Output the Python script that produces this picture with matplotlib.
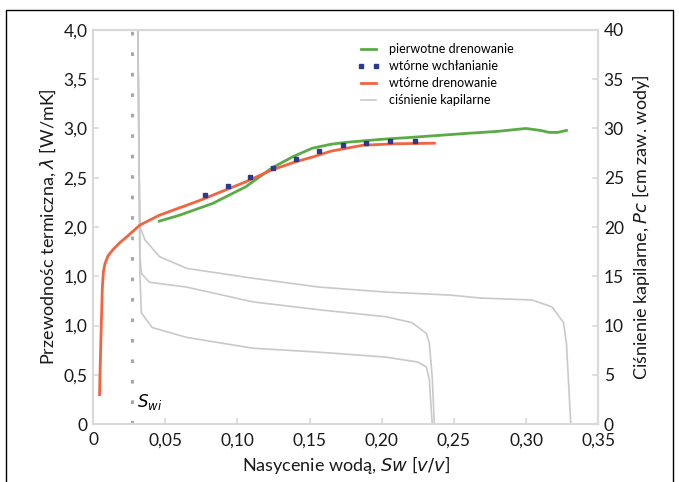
import matplotlib.pyplot as plt
import numpy as np

plt.rcParams['font.family'] = ['Lato', 'DejaVu Sans']

# dane ----------
# przewodność termiczna (lewa oś)
sw_prim = [0.046, 0.060, 0.083, 0.106, 0.124, 0.138, 0.152, 0.165, 0.176, 0.200,
           0.221, 0.240, 0.259, 0.280, 0.300, 0.310, 0.316, 0.322, 0.328]
lam_prim = [2.06, 2.12, 2.24, 2.41, 2.60, 2.71, 2.80, 2.84, 2.86, 2.89,
            2.91, 2.93, 2.95, 2.97, 3.00, 2.98, 2.96, 2.96, 2.98]

sw_sec = [0.0045, 0.0050, 0.0057, 0.0065, 0.0072, 0.0083, 0.0105, 0.0138, 0.0185,
          0.0233, 0.0325, 0.046, 0.074, 0.106, 0.124, 0.140, 0.152, 0.165, 0.187,
          0.210, 0.2365]
lam_sec = [0.30, 0.60, 1.00, 1.40, 1.55, 1.63, 1.71, 1.77, 1.84,
           1.90, 2.02, 2.12, 2.27, 2.46, 2.58, 2.66, 2.71, 2.77, 2.83,
           2.845, 2.85]

sw_imb = [0.0775, 0.0934, 0.1089, 0.1247, 0.1404, 0.1566, 0.1732, 0.1893, 0.2060, 0.2230]
lam_imb = [2.325, 2.42, 2.51, 2.60, 2.69, 2.77, 2.83, 2.85, 2.87, 2.875]

# ciśnienie kapilarne (prawa oś)
pc_a_x = [0.031, 0.0315, 0.032, 0.0325, 0.036, 0.046, 0.065, 0.111, 0.157, 0.203,
          0.247, 0.268, 0.304, 0.318, 0.326, 0.328, 0.331]
pc_a_y = [40, 35, 25, 20, 18.7, 17.0, 15.8, 14.8, 13.9, 13.4,
          13.1, 12.8, 12.6, 11.9, 10.3, 8.2, 0]
pc_b_x = [0.031, 0.032, 0.0325, 0.0335, 0.039, 0.065, 0.111, 0.157, 0.203, 0.221,
          0.231, 0.233, 0.235, 0.2365]
pc_b_y = [40, 25, 17, 15.3, 14.4, 13.9, 12.4, 11.6, 10.9, 10.3,
          9.2, 8.2, 4.8, 0]
pc_c_x = [0.031, 0.032, 0.0325, 0.0335, 0.041, 0.065, 0.111, 0.157, 0.203, 0.225,
          0.231, 0.233, 0.235]
pc_c_y = [40, 25, 15, 11.3, 9.8, 8.8, 7.7, 7.3, 6.8, 6.3,
          5.8, 4.5, 0]

swi = 0.027

x_ticks = [0, 0.05, 0.10, 0.15, 0.20, 0.25, 0.30, 0.35]
x_labels = ['0', '0,05', '0,10', '0,15', '0,20', '0,25', '0,30', '0,35']
y_ticks = [0, 0.5, 1.0, 1.5, 2.0, 2.5, 3.0, 3.5, 4.0]
y_labels = ['0', '0,5', '1,0', '1,0', '2,0', '2,5', '3,0', '3,5', '4,0']
y2_ticks = [0, 5, 10, 15, 20, 25, 30, 35, 40]

c_green = '#5aab46'
c_red = '#f26440'
c_blue = '#2b3990'
c_gray = '#c9c9c9'
c_spine = '#d9d9d9'

# wykres ----------
fig = plt.figure(figsize=(6.79, 4.82), dpi=100)
ax = fig.add_axes([0.137, 0.120, 0.744, 0.818])
ax2 = ax.twinx()

# ramka wokół całości
fig.add_artist(plt.Rectangle((0.009, -0.01), 0.982, 0.99, transform=fig.transFigure,
                             fill=False, edgecolor='black', linewidth=1.0))

l4, = ax2.plot(pc_a_x, pc_a_y, color=c_gray, lw=1.2)
ax2.plot(pc_b_x, pc_b_y, color=c_gray, lw=1.2)
ax2.plot(pc_c_x, pc_c_y, color=c_gray, lw=1.2)
ax2.axvline(swi, color='#a8a8a8', lw=2.2, ls=(0, (1.2, 5.5)))

l1, = ax.plot(sw_prim, lam_prim, color=c_green, lw=2.0)
l3, = ax.plot(sw_sec, lam_sec, color=c_red, lw=2.0)
l2, = ax.plot(sw_imb, lam_imb, ls='none', marker='s', ms=3.2, color=c_blue)

ax.set_zorder(ax2.get_zorder() + 1)
ax.patch.set_visible(False)

ax.set_xlim(0, 0.35)
ax.set_ylim(0, 4.0)
ax2.set_ylim(0, 40)
ax.set_xticks(x_ticks, x_labels)
ax.set_yticks(y_ticks, y_labels)
ax2.set_yticks(y2_ticks, [str(v) for v in y2_ticks])

for a in (ax, ax2):
    for s in a.spines.values():
        s.set_color(c_spine)
        s.set_linewidth(1.5)
    a.tick_params(direction='in', length=4, color=c_spine, width=1.2,
                  labelsize=12.5, labelcolor='#1a1a1a', pad=4)
ax.tick_params(axis='x', pad=6)

ax.set_xlabel('Nasycenie wodą, $\\it{Sw}$ [$\\it{v/v}$]', fontsize=13, color='#1a1a1a')
ax.set_ylabel('Przewodnośc termiczna, $\\it{λ}$ [W/mK]', fontsize=13, color='#1a1a1a')
ax2.set_ylabel('Ciśnienie kapilarne, $\\it{Pc}$ [cm zaw. wody]', fontsize=13, color='#1a1a1a')

ax.text(0.0305, 0.17, '$S_{wi}$', fontsize=12, style='italic')

leg = ax.legend([l1, l2, l3, l4],
                ['pierwotne drenowanie', 'wtórne wchłanianie', 'wtórne drenowanie',
                 'ciśnienie kapilarne'],
                loc='upper left', bbox_to_anchor=(0.50, 0.995), frameon=False,
                fontsize=9, handlelength=1.8, labelspacing=0.4, numpoints=2,
                handletextpad=0.8)

fig.savefig('out.png', dpi=100)
